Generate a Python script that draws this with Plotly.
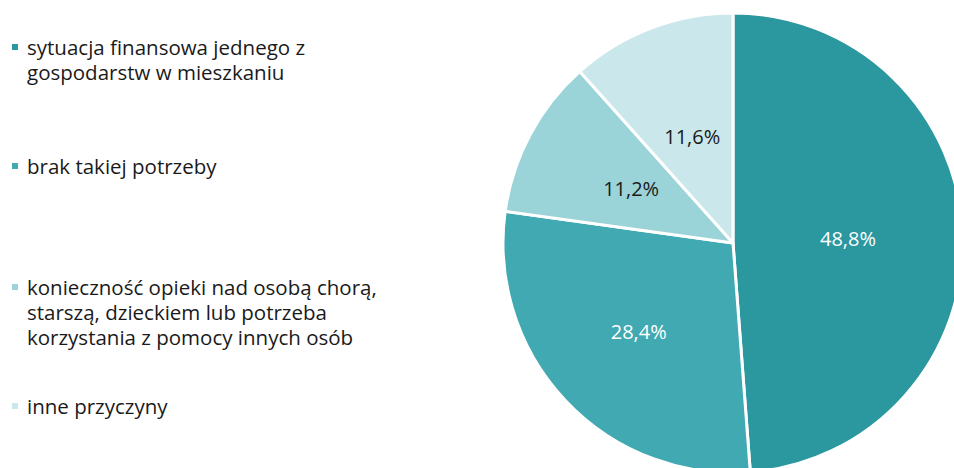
import plotly.graph_objects as go

# data
labels = [
    "sytuacja finansowa jednego z<br>gospodarstw w mieszkaniu",
    "brak takiej potrzeby",
    "konieczność opieki nad osobą chorą,<br>starszą, dzieckiem lub potrzeba<br>korzystania z pomocy innych osób",
    "inne przyczyny",
]
values = [48.8, 28.4, 11.2, 11.6]
colors = ["#2b979f", "#40a9b1", "#9ad3d8", "#cae8eb"]
text_colors = ["white", "white", "#1a1a1a", "#1a1a1a"]

W, H = 970, 485          # a bit larger than the window, so the pie gets clipped like the original
FONT = "Open Sans"
CX, CY, R = 733, 243, 230

pct = [f"{v:.1f}%".replace(".", ",") for v in values]
big = [v > 20 for v in values]


def dom(r):
    return dict(x=[(CX - r) / W, (CX + r) / W], y=[1 - (CY + r) / H, 1 - (CY - r) / H])


fig = go.Figure()
fig.add_trace(go.Pie(
    labels=labels,
    values=values,
    sort=False,
    direction="clockwise",
    rotation=0,
    text=[t if b else "" for t, b in zip(pct, big)],
    textinfo="text",
    textposition="inside",
    insidetextorientation="horizontal",
    insidetextfont=dict(color=text_colors, size=20, family=FONT),
    marker=dict(colors=colors, line=dict(color="white", width=3)),
    hoverinfo="label+percent",
    domain=dom(R),
    showlegend=False,
))
# small slices: labels sit closer to the centre, so carry them on a transparent inner pie
fig.add_trace(go.Pie(
    labels=labels,
    values=values,
    sort=False,
    direction="clockwise",
    rotation=0,
    text=["" if b else t for t, b in zip(pct, big)],
    textinfo="text",
    textposition="inside",
    insidetextorientation="horizontal",
    insidetextfont=dict(color=text_colors, size=20, family=FONT),
    marker=dict(colors=["rgba(0,0,0,0)"] * 4, line=dict(width=0)),
    hoverinfo="skip",
    domain=dom(R * 0.675),
    showlegend=False,
))

# legend drawn by hand: swatch + text lines
legend_y = [47, 166, 287, 406]
for lab, col, yc in zip(labels, colors, legend_y):
    fig.add_shape(type="rect", xref="paper", yref="paper",
                  x0=12 / W, x1=18 / W, y0=1 - (yc + 3) / H, y1=1 - (yc - 3) / H,
                  fillcolor=col, line_width=0)
    for i, line in enumerate(lab.split("<br>")):
        fig.add_annotation(xref="paper", yref="paper", x=25 / W, y=1 - (yc + 25 * i) / H,
                           xanchor="left", yanchor="middle", align="left",
                           text=line, showarrow=False,
                           font=dict(size=20.5, family=FONT, color="#1a1a1a"))

fig.update_layout(
    width=W, height=H,
    margin=dict(l=0, r=0, t=0, b=0),
    paper_bgcolor="white",
    font_family=FONT,
)

fig.write_html("out.html", config={"displayModeBar": False},
               post_script="document.body.style.margin='0';document.body.style.overflow='hidden';")
